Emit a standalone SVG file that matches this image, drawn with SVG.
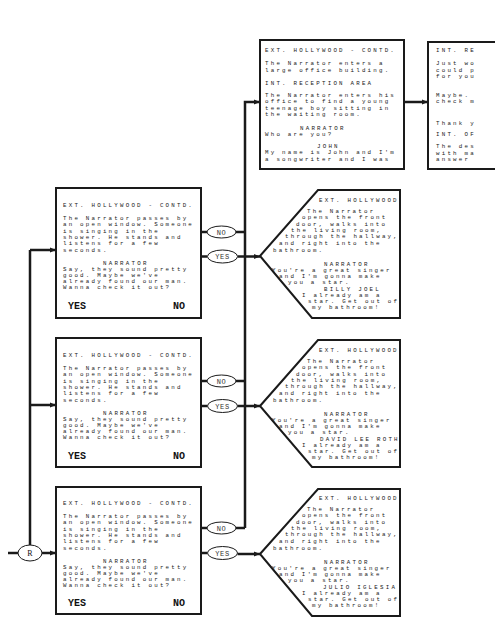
<svg xmlns="http://www.w3.org/2000/svg" width="495" height="640" viewBox="0 0 495 640">
<style>
.bg{fill:#fff}
.box{fill:#fff;stroke:#1a1a1a;stroke-width:2}
.conn{fill:none;stroke:#1a1a1a;stroke-width:2.5}
.ell{fill:#fff;stroke:#1a1a1a;stroke-width:1}
.t{font-family:"Liberation Mono","DejaVu Sans Mono",monospace;font-size:5.8px;letter-spacing:2.22px;fill:#1a1a1a}
.c{font-family:"Liberation Mono","DejaVu Sans Mono",monospace;font-size:7px;letter-spacing:0.6px;fill:#333;text-anchor:middle}
.yn{font-family:"Liberation Mono","DejaVu Sans Mono",monospace;font-size:10px;font-weight:bold;fill:#111}
.r{font-family:"Liberation Serif",serif;font-size:8px;fill:#111;text-anchor:middle}
</style>
<defs>
<marker id="ah" viewBox="0 0 10 10" refX="10" refY="5" markerWidth="6" markerHeight="6" markerUnits="userSpaceOnUse" orient="auto"><path d="M0,1 L10,5 L0,9 z" fill="#1a1a1a"/></marker>
</defs>
<rect class="bg" x="0" y="0" width="495" height="640"/>

<g id="connectors">
<path class="conn" d="M30,250 V545"/>
<path class="conn" d="M30,250 H56" marker-end="url(#ah)"/>
<path class="conn" d="M30,405 H56" marker-end="url(#ah)"/>
<path class="conn" d="M8,553 H18"/>
<path class="conn" d="M42,553 H56" marker-end="url(#ah)"/>
<path class="conn" d="M201,232 H207 M201,256.5 H207.5"/>
<path class="conn" d="M201,381 H207 M201,406 H207.5"/>
<path class="conn" d="M201,528 H207 M201,553 H207.5"/>
<path class="conn" d="M236,232 H245 M236,381 H245 M236,528 H245"/>
<path class="conn" d="M245,528 V102 H260" marker-end="url(#ah)"/>
<path class="conn" d="M404,102 H428" marker-end="url(#ah)"/>
<path class="conn" d="M237.5,256.5 H260" marker-end="url(#ah)"/>
<path class="conn" d="M237.5,406 H260" marker-end="url(#ah)"/>
<path class="conn" d="M237.5,554 H260" marker-end="url(#ah)"/>
</g>

<g id="R">
<ellipse class="ell" cx="30" cy="553" rx="12" ry="8"/>
<text class="r" x="30" y="556">R</text>
</g>

<g id="box1">
<rect class="box" x="56" y="188" width="145" height="130"/>
<text class="t" x="63" y="207">EXT. HOLLYWOOD - CONTD.</text>
<text class="t" x="63" y="220">The Narrator passes by</text>
<text class="t" x="63" y="226.3">an open window. Someone</text>
<text class="t" x="63" y="232.6">is singing in the</text>
<text class="t" x="63" y="238.9">shower. He stands and</text>
<text class="t" x="63" y="245.2">listens for a few</text>
<text class="t" x="63" y="251.6">seconds.</text>
<text class="t" x="103" y="264.6">NARRATOR</text>
<text class="t" x="63" y="271">Say, they sound pretty</text>
<text class="t" x="63" y="277.1">good. Maybe we've</text>
<text class="t" x="63" y="283.2">already found our man.</text>
<text class="t" x="63" y="289.4">Wanna check it out?</text>
<text class="yn" x="68" y="308.5">YES</text>
<text class="yn" x="173" y="308.5">NO</text>
</g>

<g id="box2" transform="translate(0,150)">
<rect class="box" x="56" y="188" width="145" height="129"/>
<text class="t" x="63" y="207">EXT. HOLLYWOOD - CONTD.</text>
<text class="t" x="63" y="220">The Narrator passes by</text>
<text class="t" x="63" y="226.3">an open window. Someone</text>
<text class="t" x="63" y="232.6">is singing in the</text>
<text class="t" x="63" y="238.9">shower. He stands and</text>
<text class="t" x="63" y="245.2">listens for a few</text>
<text class="t" x="63" y="251.6">seconds.</text>
<text class="t" x="103" y="264.6">NARRATOR</text>
<text class="t" x="63" y="271">Say, they sound pretty</text>
<text class="t" x="63" y="277.1">good. Maybe we've</text>
<text class="t" x="63" y="283.2">already found our man.</text>
<text class="t" x="63" y="289.4">Wanna check it out?</text>
<text class="yn" x="68" y="308.5">YES</text>
<text class="yn" x="173" y="308.5">NO</text>
</g>

<g id="box3" transform="translate(0,298)">
<rect class="box" x="56" y="189" width="145" height="127"/>
<text class="t" x="63" y="207">EXT. HOLLYWOOD - CONTD.</text>
<text class="t" x="63" y="220">The Narrator passes by</text>
<text class="t" x="63" y="226.3">an open window. Someone</text>
<text class="t" x="63" y="232.6">is singing in the</text>
<text class="t" x="63" y="238.9">shower. He stands and</text>
<text class="t" x="63" y="245.2">listens for a few</text>
<text class="t" x="63" y="251.6">seconds.</text>
<text class="t" x="103" y="264.6">NARRATOR</text>
<text class="t" x="63" y="271">Say, they sound pretty</text>
<text class="t" x="63" y="277.1">good. Maybe we've</text>
<text class="t" x="63" y="283.2">already found our man.</text>
<text class="t" x="63" y="289.4">Wanna check it out?</text>
<text class="yn" x="68" y="307.5">YES</text>
<text class="yn" x="173" y="307.5">NO</text>
</g>

<g id="no1"><ellipse class="ell" cx="221.5" cy="232" rx="14.5" ry="6"/><text class="c" x="221.5" y="234.5">NO</text></g>
<g id="yes1"><ellipse class="ell" cx="222.5" cy="256.5" rx="15" ry="6.5"/><text class="c" x="222.5" y="259">YES</text></g>
<g id="no2"><ellipse class="ell" cx="221.5" cy="381" rx="14.5" ry="6"/><text class="c" x="221.5" y="383.5">NO</text></g>
<g id="yes2"><ellipse class="ell" cx="222.5" cy="406" rx="15" ry="6.5"/><text class="c" x="222.5" y="408.5">YES</text></g>
<g id="no3"><ellipse class="ell" cx="221.5" cy="528" rx="14.5" ry="6"/><text class="c" x="221.5" y="530.5">NO</text></g>
<g id="yes3"><ellipse class="ell" cx="222.5" cy="553" rx="15" ry="6.5"/><text class="c" x="222.5" y="555.5">YES</text></g>

<g id="pent1">
<path class="box" d="M260,256 L318,190 H400 V318 H312 Z"/>
<text class="t" x="319" y="202">EXT. HOLLYWOOD</text>
<text class="t" x="307" y="213">The Narrator</text>
<text class="t" x="302" y="219.3">opens the front</text>
<text class="t" x="296" y="225.6">door, walks into</text>
<text class="t" x="291" y="231.9">the living room,</text>
<text class="t" x="285" y="238.2">through the hallway,</text>
<text class="t" x="279" y="244.9">and right into the</text>
<text class="t" x="273" y="251.6">bathroom.</text>
<text class="t" x="324" y="265.8">NARRATOR</text>
<text class="t" x="272" y="272">You're a great singer</text>
<text class="t" x="279" y="278.2">and I'm gonna make</text>
<text class="t" x="288" y="284.4">you a star.</text>
<text class="t" x="324" y="290.6">BILLY JOEL</text>
<text class="t" x="302" y="296.8">I already am a</text>
<text class="t" x="308" y="303">star. Get out of</text>
<text class="t" x="312" y="309.3">my bathroom!</text>
</g>

<g id="pent2" transform="translate(0,150)">
<path class="box" d="M260,256 L318,190 H400 V317 H312 Z"/>
<text class="t" x="319" y="202">EXT. HOLLYWOOD</text>
<text class="t" x="307" y="213">The Narrator</text>
<text class="t" x="302" y="219.3">opens the front</text>
<text class="t" x="296" y="225.6">door, walks into</text>
<text class="t" x="291" y="231.9">the living room,</text>
<text class="t" x="285" y="238.2">through the hallway,</text>
<text class="t" x="279" y="244.9">and right into the</text>
<text class="t" x="273" y="251.6">bathroom.</text>
<text class="t" x="324" y="265.8">NARRATOR</text>
<text class="t" x="272" y="272">You're a great singer</text>
<text class="t" x="279" y="278.2">and I'm gonna make</text>
<text class="t" x="288" y="284.4">you a star.</text>
<text class="t" x="320" y="290.6">DAVID LEE ROTH</text>
<text class="t" x="302" y="296.8">I already am a</text>
<text class="t" x="308" y="303">star. Get out of</text>
<text class="t" x="312" y="309.3">my bathroom!</text>
</g>

<g id="pent3" transform="translate(0,298)">
<path class="box" d="M260,256 L318,191 H400 V318 H312 Z"/>
<text class="t" x="319" y="202">EXT. HOLLYWOOD</text>
<text class="t" x="307" y="213">The Narrator</text>
<text class="t" x="302" y="219.3">opens the front</text>
<text class="t" x="296" y="225.6">door, walks into</text>
<text class="t" x="291" y="231.9">the living room,</text>
<text class="t" x="285" y="238.2">through the hallway,</text>
<text class="t" x="279" y="244.9">and right into the</text>
<text class="t" x="273" y="251.6">bathroom.</text>
<text class="t" x="324" y="265.8">NARRATOR</text>
<text class="t" x="272" y="272">You're a great singer</text>
<text class="t" x="279" y="278.2">and I'm gonna make</text>
<text class="t" x="288" y="284.4">you a star.</text>
<text class="t" x="323" y="290.6">JULIO IGLESIA</text>
<text class="t" x="302" y="296.8">I already am a</text>
<text class="t" x="308" y="303">star. Get out of</text>
<text class="t" x="312" y="309.3">my bathroom!</text>
</g>

<g id="topbox">
<rect class="box" x="260" y="40" width="144" height="129"/>
<text class="t" x="265" y="52">EXT. HOLLYWOOD - CONTD.</text>
<text class="t" x="265" y="65.3">The Narrator enters a</text>
<text class="t" x="265" y="71.5">large office building.</text>
<text class="t" x="265" y="84.6">INT. RECEPTION AREA</text>
<text class="t" x="265" y="97">The Narrator enters his</text>
<text class="t" x="265" y="103.3">office to find a young</text>
<text class="t" x="265" y="109.6">teenage boy sitting in</text>
<text class="t" x="265" y="115.9">the waiting room.</text>
<text class="t" x="300" y="129.6">NARRATOR</text>
<text class="t" x="265" y="135.9">Who are you?</text>
<text class="t" x="317" y="148">JOHN</text>
<text class="t" x="265" y="154.3">My name is John and I'm</text>
<text class="t" x="265" y="160.6">a songwriter and I was</text>
</g>

<g id="farbox">
<rect class="box" x="428" y="42" width="100" height="127"/>
<text class="t" x="436" y="52">INT. RE</text>
<text class="t" x="436" y="65.3">Just wo</text>
<text class="t" x="436" y="71.5">could p</text>
<text class="t" x="436" y="77.7">for you</text>
<text class="t" x="436" y="97">Maybe.</text>
<text class="t" x="436" y="103.3">check m</text>
<text class="t" x="436" y="124.5">Thank y</text>
<text class="t" x="436" y="136">INT. OF</text>
<text class="t" x="436" y="148.3">The des</text>
<text class="t" x="436" y="154.5">with ma</text>
<text class="t" x="436" y="160.7">answer</text>
</g>
</svg>
